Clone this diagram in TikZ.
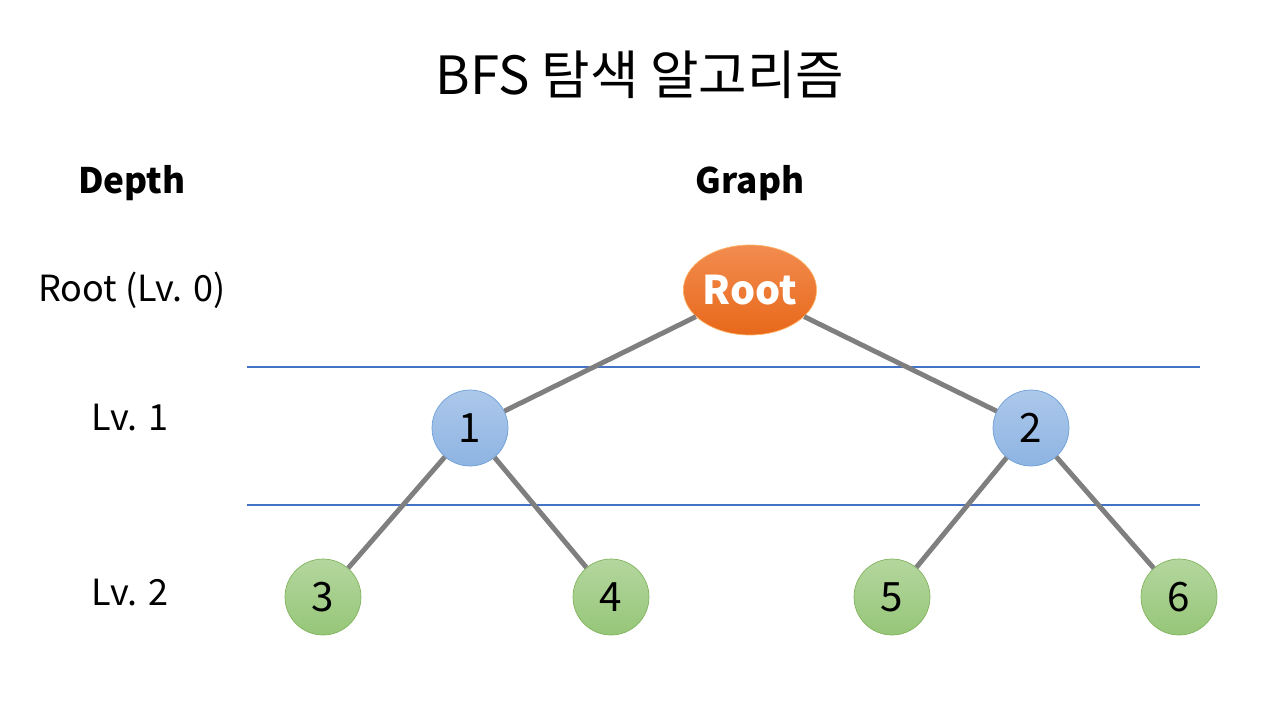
\documentclass[tikz,border=0pt]{standalone}
\usepackage{fontspec}
\setmainfont{Noto Sans CJK KR}
\usetikzlibrary{shapes.geometric}
\definecolor{edgegray}{HTML}{7F7F7F}
\definecolor{rulecol}{HTML}{4472C4}
\tikzset{
    rootnode/.style={ellipse, minimum width=2.46cm, minimum height=1.8cm, inner sep=0pt,
        draw=orange!60!white, top color={rgb,255:red,242;green,140;blue,80}, bottom color={rgb,255:red,232;green,104;blue,26},
        text=white, font=\fontsize{22.5}{26}\selectfont\bfseries},
    lvone/.style={circle, minimum size=1.52cm, inner sep=0pt, draw={rgb,255:red,110;green,160;blue,215},
        top color={rgb,255:red,172;green,200;blue,234}, bottom color={rgb,255:red,142;green,180;blue,227},
        font=\fontsize{23}{27}\selectfont},
    lvtwo/.style={circle, minimum size=1.52cm, inner sep=0pt, draw={rgb,255:red,130;green,180;blue,95},
        top color={rgb,255:red,180;green,214;blue,158}, bottom color={rgb,255:red,150;green,198;blue,120},
        font=\fontsize{23}{27}\selectfont},
    edge/.style={draw=edgegray, line width=2.8pt},
    levelrule/.style={draw=rulecol, line width=0.7pt},
    depthlabel/.style={font=\fontsize{20.5}{24}\selectfont},
    heading/.style={font=\fontsize{20}{24}\selectfont\bfseries}
}
\begin{document}
\begin{tikzpicture}[x=0.02cm, y=-0.02cm]
    \useasboundingbox (0,0) rectangle (1280,720);
    % title
    \node (title) at (640,75) {\fontsize{30}{36}\selectfont BFS 탐색 알고리즘};
    \node[heading] (depth) at (132,183) {Depth};
    \node[heading] (graph) at (750,183) {Graph};
    % depth labels
    \node[depthlabel] (lv0) at (132,290) {Root (Lv. 0)};
    \node[depthlabel] (lv1) at (130,418) {Lv. 1};
    \node[depthlabel] (lv2) at (130,593) {Lv. 2};
    % level separators
    \coordinate (r1a) at (247,367);
    \coordinate (r1b) at (1200,367);
    \coordinate (r2a) at (247,505);
    \coordinate (r2b) at (1200,505);
    \draw[levelrule] (r1a) -- (r1b);
    \draw[levelrule] (r2a) -- (r2b);
    % nodes
    \node[rootnode] (root) at (750,290) {Root};
    \node[lvone] (n1) at (470,428) {1};
    \node[lvone] (n2) at (1031,428) {2};
    \node[lvtwo] (n3) at (323,597) {3};
    \node[lvtwo] (n4) at (611,597) {4};
    \node[lvtwo] (n5) at (892,597) {5};
    \node[lvtwo] (n6) at (1179,597) {6};
    % edges
    \path[edge] (root) -- (n1);
    \path[edge] (root) -- (n2);
    \path[edge] (n1) -- (n3);
    \path[edge] (n1) -- (n4);
    \path[edge] (n2) -- (n5);
    \path[edge] (n2) -- (n6);
\end{tikzpicture}
\end{document}
